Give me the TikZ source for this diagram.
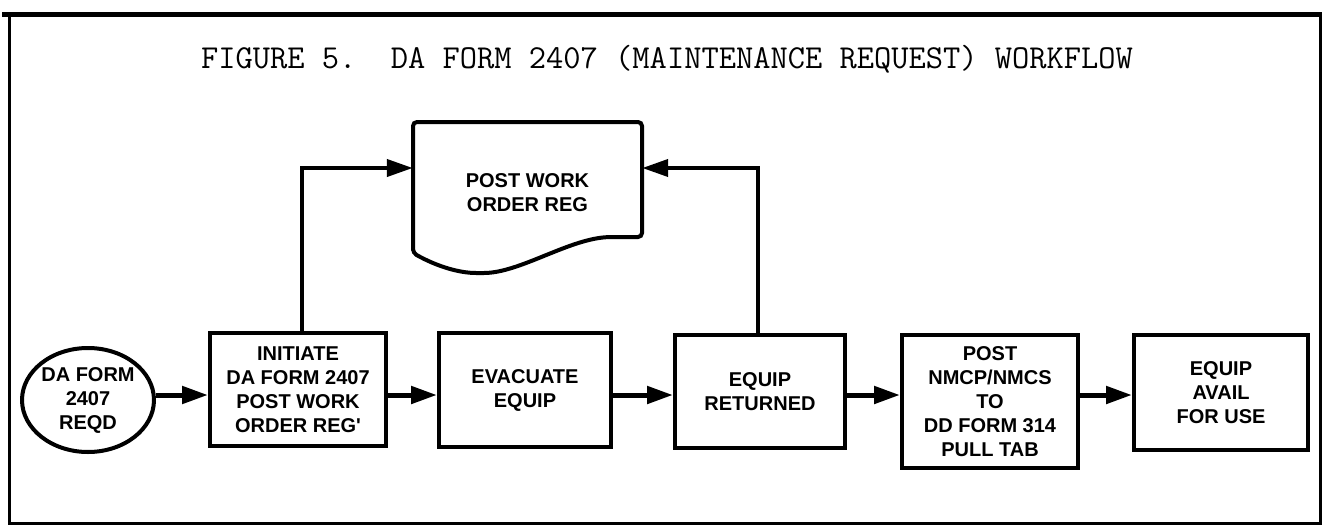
\documentclass[tikz,border=0pt]{standalone}
\usepackage{fontspec}
\newfontfamily\boxfont{Liberation Sans}
\usetikzlibrary{arrows.meta,shapes.geometric}
\begin{document}
\begin{tikzpicture}[x=1pt,y=-1pt,
  boxtext/.style={align=center,inner sep=0pt,font=\boxfont\bfseries\fontsize{20}{24}\selectfont},
  stepbox/.style={boxtext,draw,line width=4pt,rectangle},
  flow/.style={line width=5pt,-{Triangle[length=26pt,width=17pt]}},
  feed/.style={line width=4pt,-{Triangle[length=26pt,width=17pt]}},
]
\useasboundingbox (0,0) rectangle (1322,527);
% frame
\draw[line width=3pt] (9,15) -- (9,523) -- (1320,523) -- (1320,15);
\draw[line width=5pt] (2,15) -- (1322,15);
% title
\node[anchor=base,inner sep=0pt,font=\ttfamily\fontsize{33.5}{36}\selectfont] (title) at (667,68)
  {FIGURE 5.\ \ DA FORM 2407 (MAINTENANCE REQUEST) WORKFLOW};
% start ellipse
\node[boxtext,ellipse,draw,line width=4pt,minimum width=124pt,minimum height=104pt] (c) at (88,400) {DA FORM\\2407\\REQD};
% boxes
\node[stepbox,minimum width=176pt,minimum height=113pt] (b1) at (298,389.5) {INITIATE\\DA FORM 2407\\POST WORK\\ORDER REG'};
\node[stepbox,minimum width=172pt,minimum height=114pt] (b2) at (525,390) {EVACUATE\\EQUIP};
\node[stepbox,minimum width=170pt,minimum height=113pt] (b3) at (760,391.5) {EQUIP\\RETURNED};
\node[stepbox,minimum width=176pt,minimum height=133pt] (b4) at (990,401.5) {POST\\NMCP/NMCS\\TO\\DD FORM 314\\PULL TAB};
\node[stepbox,minimum width=174pt,minimum height=115pt] (b5) at (1221,392.5) {EQUIP\\AVAIL\\FOR USE};
% document shape
\node[boxtext,minimum width=229pt,minimum height=141pt] (doc) at (527.5,192.5) {POST WORK\\ORDER REG};
\draw[line width=4pt,rounded corners=4pt] (413,253) -- (413,122) -- (642,122) -- (642,237) -- (613,237)
  .. controls (570,238) and (520,273) .. (480,273)
  .. controls (460,273) and (438,267) .. (413,253) -- cycle;
% connectors
\coordinate (row) at (0,395);
\coordinate (k1) at (0,168);
\draw[flow] (c.east |- row) -- (b1.west |- row);
\draw[flow] (b1.east |- row) -- (b2.west |- row);
\draw[flow] (b2.east |- row) -- (b3.west |- row);
\draw[flow] (b3.east |- row) -- (b4.west |- row);
\draw[flow] (b4.east |- row) -- (b5.west |- row);
\draw[feed] ([xshift=4pt]b1.north) |- (doc.west |- k1);
\draw[feed] ([xshift=-2pt]b3.north) |- (doc.east |- k1);
\end{tikzpicture}
\end{document}
